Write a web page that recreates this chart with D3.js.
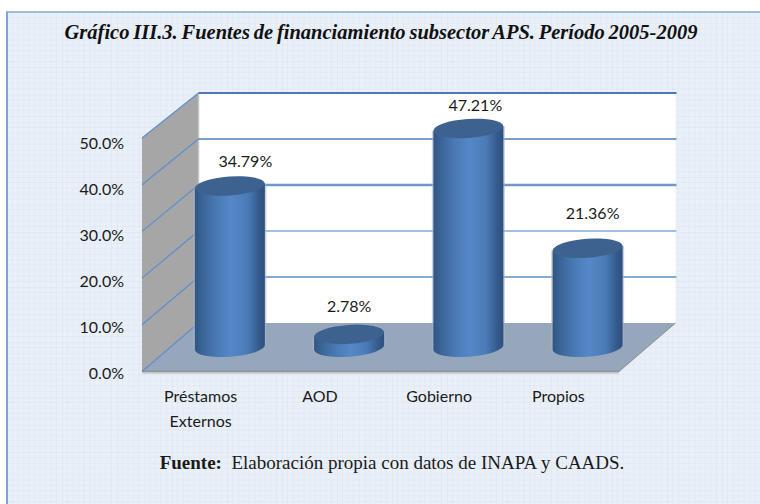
<!DOCTYPE html>
<html><head><meta charset="utf-8">
<script src="https://cdn.jsdelivr.net/npm/d3@7"></script>
<style>html,body{margin:0;padding:0;background:#fff}svg{display:block}</style>
</head><body><svg id="c" width="760" height="504"></svg>
<script>
const categories = [["Préstamos","Externos"],["AOD"],["Gobierno"],["Propios"]];
const values = [34.79, 2.78, 47.21, 21.36];
const valueLabels = ["34.79%","2.78%","47.21%","21.36%"];
const yTicks = [0,10,20,30,40,50];
const titleText = "Gráfico III.3. Fuentes de financiamiento subsector APS. Período 2005-2009";
const sourceBold = "Fuente:";
const sourceText = "  Elaboración propia con datos de INAPA y CAADS.";

// manual label placement, relative to the top of each cylinder
const labelNudgeX = [15.5, 0, 7, 5];
const labelNudgeY = [-18.5, -22, -17, -29];

const svg = d3.select("#c");
const defs = svg.append("defs");
const pat = defs.append("pattern").attr("id","grid").attr("width",27.5).attr("height",27.5).attr("patternUnits","userSpaceOnUse").attr("x",7).attr("y",12);
pat.append("rect").attr("width",27.5).attr("height",27.5).attr("fill","#eaf0f8");
d3.range(0,27.5,5.5).forEach(p=>{
  const o = p===0?1:0.55;
  pat.append("line").attr("x1",p).attr("x2",p).attr("y1",0).attr("y2",27.5).attr("stroke","#d9e3f0").attr("stroke-opacity",o);
  pat.append("line").attr("y1",p).attr("y2",p).attr("x1",0).attr("x2",27.5).attr("stroke","#d9e3f0").attr("stroke-opacity",o);
});
const g = defs.append("linearGradient").attr("id","cyl");
[[0,"#2f5585"],[0.12,"#3c6699"],[0.35,"#4c7dba"],[0.52,"#5588c8"],[0.75,"#4a7bb8"],[0.92,"#34598a"],[1,"#2f5080"]]
  .forEach(([o,c])=>g.append("stop").attr("offset",o).attr("stop-color",c));

// frame
svg.append("rect").attr("x",7).attr("y",12).attr("width",753).attr("height",492).attr("fill","url(#grid)");
svg.append("line").attr("x1",6).attr("x2",760).attr("y1",12).attr("y2",12).attr("stroke","#8aaad4").attr("stroke-width",1.6);
svg.append("line").attr("x1",7).attr("x2",7).attr("y1",12).attr("y2",504).attr("stroke","#7fa3d6").attr("stroke-width",2);

// 3D layout: front edge, back edge and mid-depth value scales
const yFront = d3.scaleLinear().domain([0,50]).range([371.5,138]);
const yBack = d3.scaleLinear().domain([0,50]).range([323,93]);
const yMid = v => (yFront(v)+yBack(v))/2;
const yLabel = d3.scaleLinear().domain([0,50]).range([373.7,143.7]);
const xBand = d3.scaleBand().domain(d3.range(categories.length)).range([142,619]);
const xb = 198.5, xe = 675.5;
const bw = 70, ryTop = 9.5, tilt = -4;
const barCx = i => xBand(i)+xBand.bandwidth()/2+(xb-142)/2;
const y0 = yFront(0), yb = yBack(0);

// back wall
svg.append("rect").attr("x",xb).attr("y",yBack(50)).attr("width",xe-xb).attr("height",yb-yBack(50)).attr("fill","#fff");
// left wall
svg.append("path").attr("d",d3.line()([[142,y0],[142,yFront(50)],[xb,yBack(50)],[xb,yb]])).attr("fill","#a6a6a6");
svg.append("line").attr("x1",xb).attr("x2",xb).attr("y1",yBack(50)).attr("y2",yb).attr("stroke","#c4c4c4").attr("stroke-width",1.5);

// gridlines on the back wall
const gridStyle = {50:[2,"#4a7ab8"],40:[1.5,"#4a7ebf"],30:[2.4,"#6f97cb"],20:[1.4,"#86aade"],10:[2,"#86a9d6"]};
svg.append("g").selectAll("line").data(yTicks.filter(d=>d>0)).join("line")
  .attr("x1",xb).attr("x2",xe+1)
  .attr("y1",d=>Math.round(yBack(d)))
  .attr("y2",d=>Math.round(yBack(d)))
  .attr("stroke",d=>gridStyle[d][1]).attr("stroke-width",d=>gridStyle[d][0]);

// floor
svg.append("path").attr("d",d3.line()([[142,y0],[xb,yb],[xe,yb],[619,y0]])).attr("fill","#96a6bb");
svg.append("line").attr("x1",619).attr("x2",xe).attr("y1",y0).attr("y2",yb).attr("stroke","#8a8f96").attr("stroke-width",1);
svg.append("rect").attr("x",142).attr("y",y0-1).attr("width",477).attr("height",1.6).attr("fill","#8f959c");
svg.append("rect").attr("x",142).attr("y",y0+0.6).attr("width",477).attr("height",1.6).attr("fill","#c0c3c7");

// gridlines on the side wall
svg.append("g").selectAll("line").data(yTicks).join("line")
  .attr("x1",142).attr("x2",xb).attr("y1",d=>yFront(d)).attr("y2",d=>yBack(d))
  .attr("stroke","#5b8fd0").attr("stroke-width",1.2);

// cylinders
const gb = svg.append("g").selectAll("g").data(values).join("g");
gb.each(function(v,i){
  const s = d3.select(this), cx = barCx(i), yTop = yMid(v), yBase = yMid(0), rx = bw/2;
  const sl = Math.tan(tilt*Math.PI/180)*rx;
  // soft side shadow
  s.append("path").attr("d",`M${cx-rx-1.5},${yTop-sl} L${cx-rx-1.5},${yBase-sl} L${cx+rx+1.5},${yBase+sl} L${cx+rx+1.5},${yTop+sl} Z`).attr("fill","#a9b4c4").attr("opacity",0.6);
  s.append("path")
   .attr("d",`M${cx-rx},${yTop-sl} L${cx-rx},${yBase-sl} A${rx},${ryTop} ${tilt} 0 0 ${cx+rx},${yBase+sl} L${cx+rx},${yTop+sl} Z`)
   .attr("fill","url(#cyl)");
  s.append("ellipse").attr("cx",0).attr("cy",0).attr("rx",rx).attr("ry",ryTop)
   .attr("transform",`translate(${cx},${yTop}) rotate(${tilt})`).attr("fill","#3d628f");
});

// value labels
const labelFont = "Lato, 'Open Sans', sans-serif";
svg.append("g").selectAll("text").data(values).join("text")
  .attr("x",(d,i)=>barCx(i)+labelNudgeX[i]).attr("y",(d,i)=>yMid(d)+labelNudgeY[i])
  .attr("text-anchor","middle").attr("font-family",labelFont).attr("font-size",16).attr("fill","#1a1a1a")
  .text((d,i)=>valueLabels[i]);

// y axis
const ya = svg.append("g").attr("transform","translate(124,0)")
  .call(d3.axisLeft(yLabel).tickValues(yTicks).tickSize(0).tickPadding(0).tickFormat(d=>d.toFixed(1)+"%"));
ya.select(".domain").remove();
ya.selectAll("text").attr("font-family",labelFont).attr("font-size",16).attr("fill","#1a1a1a");

// x axis
const xa = svg.append("g").attr("transform","translate(0,372)")
  .call(d3.axisBottom(xBand).tickSize(0).tickFormat(""));
xa.select(".domain").remove();
xa.selectAll(".tick").each(function(d){
  const t = d3.select(this).select("text").attr("y",0).attr("dy",null)
    .attr("font-family",labelFont).attr("font-size",16).attr("fill","#1a1a1a");
  categories[d].forEach((w,k)=>t.append("tspan").attr("x",-1).attr("y",30+k*24.5).text(w));
});

// title, source
svg.append("text").attr("x",381).attr("y",39).attr("text-anchor","middle")
  .attr("font-family","'Liberation Serif',serif").attr("font-weight","bold").attr("font-style","italic").attr("font-size",20.5).attr("word-spacing",-1.3).attr("fill","#111").text(titleText);
const src = svg.append("text").attr("x",392).attr("y",469).attr("text-anchor","middle").style("white-space","pre")
  .attr("font-family","'Liberation Serif',serif").attr("font-size",19).attr("fill","#1a1a1a");
src.append("tspan").attr("font-weight","bold").text(sourceBold);
src.append("tspan").text(sourceText);
</script></body></html>
